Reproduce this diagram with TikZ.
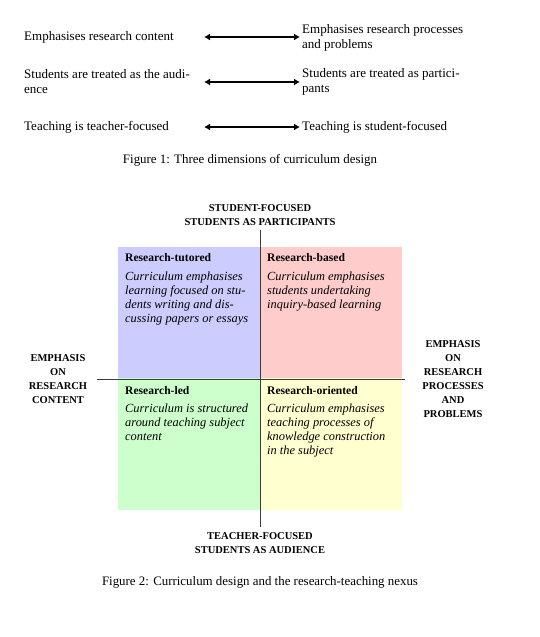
\documentclass[tikz,border=0pt]{standalone}
\usepackage{fontspec}
\setmainfont{Liberation Serif}
\usetikzlibrary{arrows.meta}
\definecolor{qblue}{RGB}{204,204,255}
\definecolor{qpink}{RGB}{255,204,204}
\definecolor{qgreen}{RGB}{204,255,204}
\definecolor{qyellow}{RGB}{255,255,208}
\definecolor{axis}{RGB}{60,60,60}
\begin{document}
\begin{tikzpicture}[x=1pt,y=-1pt,
  body/.style={font=\fontsize{13}{15}\selectfont, align=left, inner sep=0pt, anchor=west},
  figcaption/.style={font=\fontsize{12.9}{15}\selectfont, inner sep=0pt},
  dimarrow/.style={line width=1.2pt, {Latex[length=6pt,width=7pt]}-{Latex[length=6pt,width=7pt]}},
  qtitle/.style={font=\fontsize{11.6}{14}\selectfont\bfseries, inner sep=0pt, anchor=west},
  qtext/.style={font=\fontsize{12.4}{14}\selectfont\itshape, align=left, inner sep=0pt, anchor=north west},
  axlabel/.style={font=\fontsize{10.5}{14}\selectfont\bfseries, align=center, inner sep=0pt},
  axline/.style={draw=axis, line width=1pt}]
\useasboundingbox (0,0) rectangle (540,637);
% Figure 1
\node[body] (l1) at (24,37) {Emphasises research content};
\node[body] (r1) at (302,37.5) {Emphasises research processes\\and problems};
\node[body] (l2) at (24,82) {Students are treated as the audi-\\ence};
\node[body] (r2) at (302,82) {Students are treated as partici-\\pants};
\node[body] (l3) at (24,127) {Teaching is teacher-focused};
\node[body] (r3) at (302,127) {Teaching is student-focused};
\coordinate (a1l) at (204,37); \coordinate (a1r) at (300,37);
\coordinate (a2l) at (204,82); \coordinate (a2r) at (300,82);
\coordinate (a3l) at (204,127); \coordinate (a3r) at (300,127);
\draw[dimarrow] (a1l) -- (a1r);
\draw[dimarrow] (a2l) -- (a2r);
\draw[dimarrow] (a3l) -- (a3r);
\node[figcaption] (cap1) at (250,160) {Figure 1: Three dimensions of curriculum design};
% Figure 2
\fill[qblue] (118,247) rectangle (260,378);
\fill[qpink] (260,247) rectangle (402,378);
\fill[qgreen] (118,378) rectangle (260,510);
\fill[qyellow] (260,378) rectangle (402,510);
\coordinate (vt) at (260,230); \coordinate (vb) at (260,527);
\coordinate (hl) at (97,379); \coordinate (hr) at (405,379);
\draw[axline] (vt) -- (vb);
\draw[axline] (hl) -- (hr);
\node[qtitle] (t1) at (125,258) {Research-tutored};
\node[qtext] (x1) at (125,272) {Curriculum emphasises\\learning focused on stu-\\dents writing and dis-\\cussing papers or essays};
\node[qtitle] (t2) at (267,258) {Research-based};
\node[qtext] (x2) at (267,272) {Curriculum emphasises\\students undertaking\\inquiry-based learning};
\node[qtitle] (t3) at (125,391) {Research-led};
\node[qtext] (x3) at (125,404) {Curriculum is structured\\around teaching subject\\content};
\node[qtitle] (t4) at (267,391) {Research-oriented};
\node[qtext] (x4) at (267,404) {Curriculum emphasises\\teaching processes of\\knowledge construction\\in the subject};
\node[axlabel] (top) at (260,215.5) {STUDENT-FOCUSED\\STUDENTS AS PARTICIPANTS};
\node[axlabel] (bot) at (260,543.5) {TEACHER-FOCUSED\\STUDENTS AS AUDIENCE};
\node[axlabel] (lft) at (58,379) {EMPHASIS\\ON\\RESEARCH\\CONTENT};
\node[axlabel] (rgt) at (453,379) {EMPHASIS\\ON\\RESEARCH\\PROCESSES\\AND\\PROBLEMS};
\node[figcaption] (cap2) at (260,582) {Figure 2: Curriculum design and the research-teaching nexus};
\end{tikzpicture}
\end{document}
